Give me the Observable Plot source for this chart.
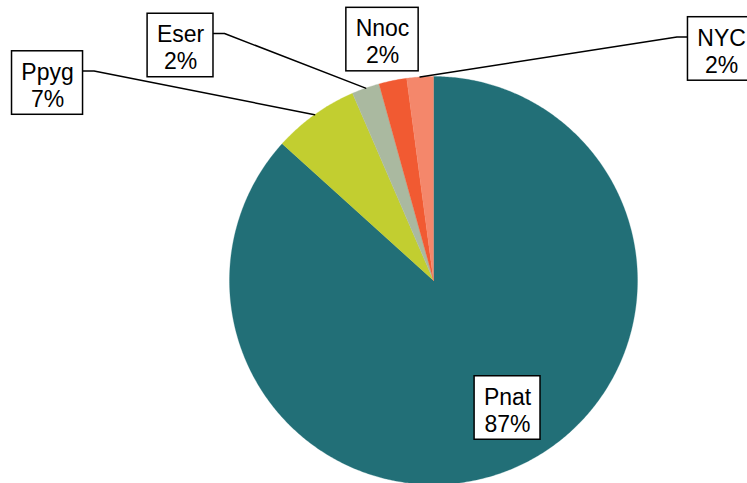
<!DOCTYPE html>
<html>
<head>
<meta charset="utf-8">
<script src="https://cdn.jsdelivr.net/npm/d3@7"></script>
<script src="https://cdn.jsdelivr.net/npm/@observablehq/plot@0.6"></script>
<style>
  html, body { margin: 0; padding: 0; background: #fff; }
</style>
</head>
<body>
<div id="chart"></div>
<script>
// ---- data ----
const names  = ["Pnat", "Ppyg", "Eser", "Nnoc", "NYC"];
const values = [86.7, 6.8, 2.2, 2.2, 2.1];
const colors = ["#226F77", "#C2CE30", "#AAB9A0", "#F15A32", "#F4876B"];

// ---- layout (label placement in units of pie radius, relative to centre) ----
const labelPlacement = {
  Pnat: [0.363, -0.625],
  Ppyg: [-1.892, 0.968],
  Eser: [-1.240, 1.152],
  Nnoc: [-0.250, 1.181],
  NYC:  [1.412, 1.135]
};
const W = 747, H = 483;
const cx = 433, cy = 280, R = 204;
const fontSize = 23, lineHeight = 1.17, padX = 9.3, boxH = 63.5, stub = 11, attachUp = 12;
const font = "Liberation Sans, Arial, Helvetica, sans-serif";

// ---- derived ----
const total = d3.sum(values);
const pct = values.map(v => Math.round(v / total * 100) + "%");
let acc = 0;
const slices = names.map((n, i) => {
  const a0 = acc / total * 2 * Math.PI;
  acc += values[i];
  const a1 = acc / total * 2 * Math.PI;
  return {name: n, a0, a1, mid: (a0 + a1) / 2, label: n + "\n" + pct[i]};
});

// polygon points for each slice (angles clockwise from north)
const slicePts = [];
for (const s of slices) {
  slicePts.push({name: s.name, x: 0, y: 0});
  const steps = Math.max(2, Math.ceil((s.a1 - s.a0) / (Math.PI / 360)));
  for (let k = 0; k <= steps; k++) {
    const a = s.a0 + (s.a1 - s.a0) * k / steps;
    slicePts.push({name: s.name, x: Math.sin(a), y: Math.cos(a)});
  }
  slicePts.push({name: s.name, x: 0, y: 0});
}

// text measurement for box widths
const ctx = document.createElement("canvas").getContext("2d");
ctx.font = `${fontSize}px ${font}`;
const px = 1 / R; // one pixel in data units

const boxes = slices.map(s => {
  const [lx, ly] = labelPlacement[s.name];
  const w = d3.max(s.label.split("\n"), t => ctx.measureText(t).width) + 2 * padX;
  return {
    name: s.name, label: s.label, x: lx, y: ly,
    x1: lx - w / 2 * px, x2: lx + w / 2 * px,
    y1: ly - boxH / 2 * px, y2: ly + boxH / 2 * px
  };
});

// leader lines: from slice outer midpoint to label box side
const leaders = [];
slices.forEach((s, i) => {
  const b = boxes[i];
  const r = Math.hypot(b.x, b.y);
  if (r < 1) return; // label inside the pie
  const px0 = Math.sin(s.mid), py0 = Math.cos(s.mid);
  const ya = b.y + attachUp * px;
  let ex, sx;
  if (px0 < b.x1) { ex = b.x1; sx = b.x1 - stub * px; }
  else if (px0 > b.x2) { ex = b.x2; sx = b.x2 + stub * px; }
  else return; // point directly under the label: no segment
  leaders.push({name: s.name, x: px0, y: py0});
  leaders.push({name: s.name, x: sx, y: ya});
  leaders.push({name: s.name, x: ex, y: ya});
});

const chart = Plot.plot({
  width: W,
  height: H,
  margin: 0,
  style: {background: "#fff", fontFamily: font},
  x: {domain: [-1, 1], range: [cx - R, cx + R], axis: null},
  y: {domain: [-1, 1], range: [cy + R, cy - R], axis: null},
  color: {domain: names, range: colors},
  marks: [
    Plot.line(slicePts, {x: "x", y: "y", z: "name", fill: "name", stroke: "name", strokeWidth: 0.3, curve: "linear"}),
    Plot.line(leaders, {x: "x", y: "y", z: "name", stroke: "black", strokeWidth: 1.5, curve: "linear"}),
    Plot.rect(boxes, {x1: "x1", x2: "x2", y1: "y1", y2: "y2", fill: "white", stroke: "black", strokeWidth: 1.5}),
    Plot.text(boxes, {x: "x", y: "y", text: "label", fontSize, lineHeight, fill: "black", dy: 1.5, fontFamily: font})
  ]
});
document.getElementById("chart").appendChild(chart);
</script>
</body>
</html>
